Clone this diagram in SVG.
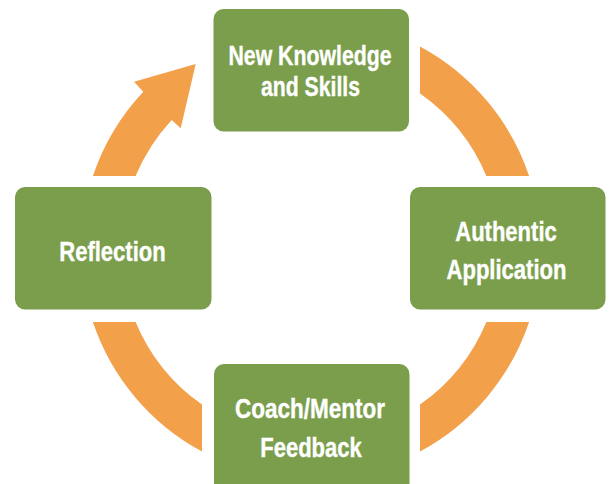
<svg xmlns="http://www.w3.org/2000/svg" width="610" height="484" viewBox="0 0 610 484">
<style>
.box{fill:#7A9E4B}
.arc{fill:#F3A04A}
.lbl{font-family:"Liberation Sans",Arial,sans-serif;font-weight:bold;font-size:28px;fill:#FFFFFF;stroke:#FFFFFF;stroke-width:0.4;text-anchor:middle}
</style>
<rect width="610" height="484" fill="#FFFFFF"/>
<g id="connectors">
<path class="arc" d="M420,46.5 A230,230 0 0 1 529.1,176 L486.4,176 A190,190 0 0 0 420,93.4 Z"/>
<path class="arc" d="M529.1,322 L486.4,322 A190,190 0 0 1 420,404.6 L420,451.5 A230,230 0 0 0 529.1,322 Z"/>
<path class="arc" d="M92.9,322 L135.6,322 A190,190 0 0 0 202,404.6 L202,451.5 A230,230 0 0 1 92.9,322 Z"/>
<path class="arc" d="M92.9,176 A230,230 0 0 1 143.3,91.7 L134,81.7 L195.7,64 L180.7,128.3 L171.7,120 A190,190 0 0 0 135.6,176 Z"/>
</g>
<g id="node-knowledge">
<rect class="box" x="213.5" y="9" width="195.5" height="122.5" rx="10"/>
<text class="lbl" x="310" y="64.5" textLength="163" lengthAdjust="spacingAndGlyphs">New Knowledge</text>
<text class="lbl" x="310.5" y="96" textLength="99" lengthAdjust="spacingAndGlyphs">and Skills</text>
</g>
<g id="node-application">
<rect class="box" x="410" y="187" width="195.5" height="122.5" rx="10"/>
<text class="lbl" x="506" y="241" textLength="101.5" lengthAdjust="spacingAndGlyphs">Authentic</text>
<text class="lbl" x="506.5" y="278.5" textLength="120" lengthAdjust="spacingAndGlyphs">Application</text>
</g>
<g id="node-feedback">
<rect class="box" x="214" y="364" width="195.5" height="130" rx="10"/>
<text class="lbl" x="310" y="418" textLength="150" lengthAdjust="spacingAndGlyphs">Coach/Mentor</text>
<text class="lbl" x="311" y="456.5" textLength="101.5" lengthAdjust="spacingAndGlyphs">Feedback</text>
</g>
<g id="node-reflection">
<rect class="box" x="15" y="187" width="196.5" height="122.5" rx="10"/>
<text class="lbl" x="112.5" y="260.5" textLength="106.5" lengthAdjust="spacingAndGlyphs">Reflection</text>
</g>
</svg>
